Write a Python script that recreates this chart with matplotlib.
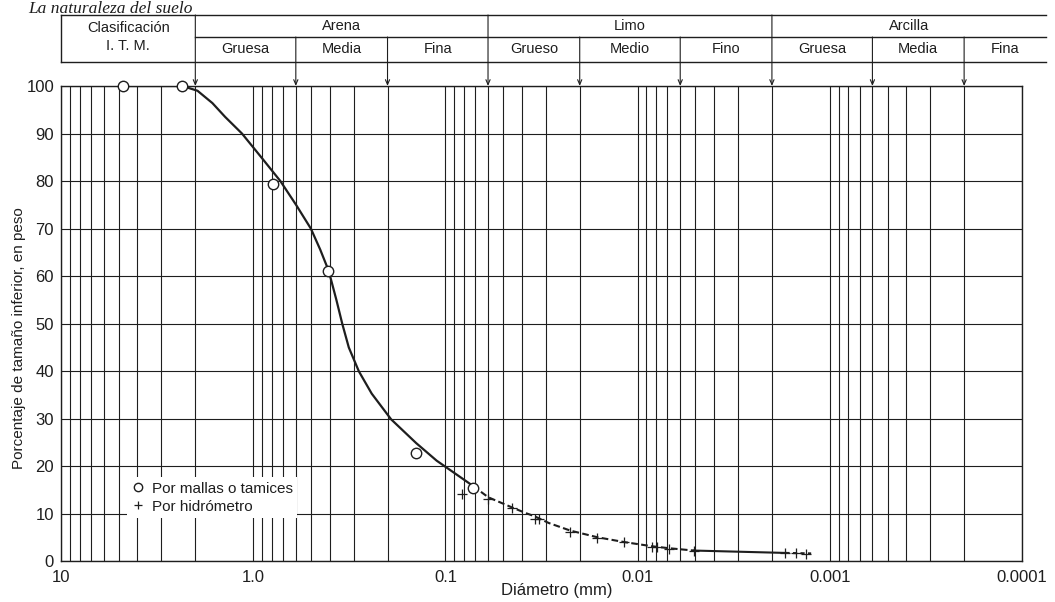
import numpy as np
import matplotlib.pyplot as plt

plt.rcParams['font.family'] = ['Liberation Sans Narrow', 'Liberation Sans', 'DejaVu Sans']

# sieve analysis (open circles)
sieve_d = [4.76, 2.34, 0.79, 0.41, 0.142, 0.0715]
sieve_pct = [100, 100, 79.4, 61.1, 22.9, 15.4]

# hydrometer readings (crosses)
hydro_d = [0.082, 0.0598, 0.0452, 0.0343, 0.0327, 0.0224, 0.0162, 0.0118,
           0.0084, 0.0079, 0.0069, 0.0051, 0.0017, 0.00149, 0.00133]
hydro_pct = [14.2, 13.2, 11.2, 9.0, 9.0, 6.3, 5.0, 4.0,
             3.1, 3.0, 2.7, 2.3, 1.7, 1.7, 1.6]

# grading curve, solid part (sieves) and dashed part (hydrometer)
curve_d = [4.76, 2.34, 1.95, 1.63, 1.40, 1.144, 0.895, 0.722, 0.596, 0.501,
           0.448, 0.4045, 0.369, 0.344, 0.318, 0.282, 0.2417, 0.1916, 0.1419, 0.111, 0.0719]
curve_pct = [100, 100, 99, 96.4, 93.5, 90, 84.7, 80, 74.9, 70,
             65.6, 61.1, 55, 50, 45, 40, 35.3, 29.9, 24.9, 21.2, 15.9]
dash_d = [0.0719, 0.0598, 0.0452, 0.0383, 0.0343, 0.029, 0.0224, 0.0162,
          0.0118, 0.0084, 0.0069, 0.0051]
dash_pct = [15.9, 13.5, 11.4, 10.2, 9.5, 8.1, 6.5, 5.1, 4.1, 3.2, 2.8, 2.3]
flat_d = [0.0051, 0.0017]
flat_pct = [2.3, 1.8]
tail_d = [0.0017, 0.00125]
tail_pct = [1.8, 1.7]

# M.I.T. classification header
group_names = ['Arena', 'Limo', 'Arcilla']
group_bounds = [2, 0.06, 0.002]
sub_names = ['Gruesa', 'Media', 'Fina', 'Grueso', 'Medio', 'Fino', 'Gruesa', 'Media', 'Fina']
sub_bounds = [2, 0.6, 0.2, 0.06, 0.02, 0.006, 0.002, 0.0006, 0.0002]
header_end = 7.5e-5

xtick_vals = [10, 1, 0.1, 0.01, 0.001, 0.0001]
xtick_labels = ['10', '1.0', '0.1', '0.01', '0.001', '0.0001']
ytick_vals = list(range(0, 101, 10))

ink = '#1e1e1e'

fig = plt.figure(figsize=(10.55, 6.02), dpi=100)
ax = fig.add_axes([0.0578, 0.0673, 0.9109, 0.7899])
ax.set_xscale('log')
ax.set_xlim(10, 1e-4)
ax.set_ylim(0, 100)

ax.set_xticks(xtick_vals)
ax.set_xticklabels(xtick_labels)
ax.set_yticks(ytick_vals)
ax.xaxis.set_minor_formatter(plt.NullFormatter())
ax.tick_params(which='both', length=0, labelsize=12, colors=ink)
ax.tick_params(axis='x', pad=6)
ax.tick_params(axis='y', pad=5)
ax.grid(True, which='both', axis='x', color=ink, lw=0.8)
ax.grid(True, which='major', axis='y', color=ink, lw=0.8)
for s in ax.spines.values():
    s.set_color(ink)
    s.set_linewidth(1.0)

ax.plot(curve_d, curve_pct, color=ink, lw=1.6, zorder=3)
ax.plot(dash_d, dash_pct, color=ink, lw=1.5, dashes=(3.2, 1.6), zorder=3)
ax.plot(flat_d, flat_pct, color=ink, lw=1.5, zorder=3)
ax.plot(tail_d, tail_pct, color=ink, lw=1.5, dashes=(2.0, 1.6), zorder=3)

ax.plot(sieve_d, sieve_pct, 'o', ms=7.5, mfc='white', mec=ink, mew=1.0,
        clip_on=False, zorder=4, label='Por mallas o tamices')
ax.plot(hydro_d, hydro_pct, '+', ms=6.5, mec=ink, mew=0.9, zorder=4,
        label='Por hidrómetro')

leg = ax.legend(loc='lower left', bbox_to_anchor=(0.061, 0.075), fontsize=11,
                numpoints=1, markerscale=0.8, handlelength=0.8, handletextpad=0.5,
                borderpad=0.3, labelspacing=0.25, frameon=True, fancybox=False,
                facecolor='white', edgecolor='none', framealpha=1)
for t in leg.get_texts():
    t.set_color(ink)

ax.set_xlabel('Diámetro (mm)', fontsize=12, color=ink)
ax.xaxis.set_label_coords(0.516, -0.045)
ax.set_ylabel('Porcentaje de tamaño inferior, en peso', fontsize=11, color=ink)
ax.yaxis.set_label_coords(-0.036, 0.47)

# classification table above the plot
tx = ax.get_xaxis_transform()
y_bot, y_mid, y_top = 1.0505, 1.103, 1.1493
hl = dict(color=ink, lw=1.0, transform=tx, clip_on=False)
ax.plot([10, header_end], [y_top, y_top], **hl)
ax.plot([group_bounds[0], header_end], [y_mid, y_mid], **hl)
ax.plot([10, header_end], [y_bot, y_bot], **hl)
ax.plot([10, 10], [y_bot, y_top], **hl)

for b in sub_bounds:
    start = y_top if b in group_bounds else y_mid
    ax.annotate('', xy=(b, 1.0), xycoords=tx, xytext=(b, start), textcoords=tx,
                arrowprops=dict(arrowstyle='->,head_length=0.35,head_width=0.15',
                                color=ink, lw=0.8, shrinkA=0, shrinkB=0))

hdr = dict(transform=tx, ha='center', va='center', fontsize=10.5, color=ink)
ax.text(np.sqrt(10 * group_bounds[0]), 1.121, 'Clasificación', **hdr)
ax.text(np.sqrt(10 * group_bounds[0]), 1.083, 'I. T. M.', **hdr)
g_edges = group_bounds + [header_end]
for i, name in enumerate(group_names):
    ax.text(np.sqrt(g_edges[i] * g_edges[i + 1]), (y_mid + y_top) / 2, name, **hdr)
s_edges = sub_bounds + [header_end]
for i, name in enumerate(sub_names):
    ax.text(np.sqrt(s_edges[i] * s_edges[i + 1]), (y_bot + y_mid) / 2, name, **hdr)

fig.text(0.027, 1 - 13 / 602, 'La naturaleza del suelo', fontsize=12.5,
         style='italic', family=['Liberation Serif', 'DejaVu Serif'],
         va='baseline', color=ink)

fig.savefig('out.png', dpi=100)
